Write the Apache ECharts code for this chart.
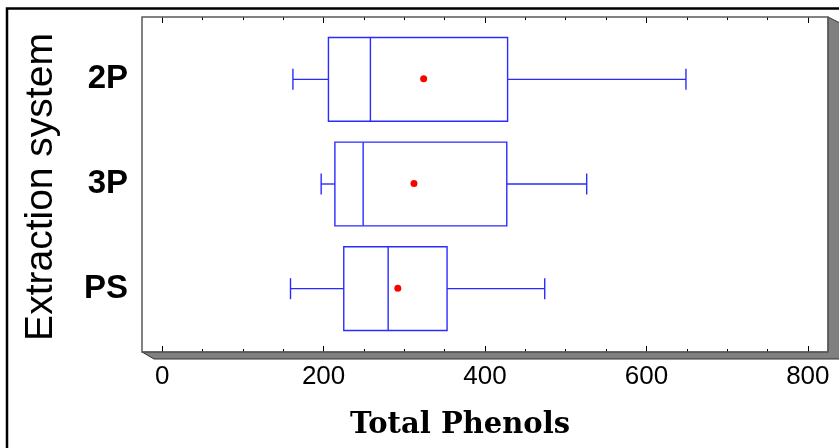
<!DOCTYPE html>
<html>
<head>
<meta charset="utf-8">
<script src="https://cdn.jsdelivr.net/npm/echarts@6/dist/echarts.min.js"></script>
<style>html,body{margin:0;padding:0;background:#fff;}#c{width:839px;height:448px;}</style>
</head>
<body>
<div id="c"></div>
<script>
// ---- data ----
var categories = ['2P', '3P', 'PS'];
var whiskerLow = [162, 197, 159];
var q1Values = [206, 214, 225];
var medianValues = [258, 249, 280];
var q3Values = [428, 427, 353];
var whiskerHigh = [649, 526, 474];
var meanValues = [324, 312, 292];
var majorTicks = [0, 200, 400, 600, 800];
var minorTicks = [50, 100, 150, 250, 300, 350, 450, 500, 550, 650, 700, 750];
var xMin = -25, xMax = 825;
var xTitle = 'Total Phenols';
var yTitle = 'Extraction system';

var seriesData = categories.map(function (c, i) {
  return [i, whiskerLow[i], q1Values[i], medianValues[i], q3Values[i], whiskerHigh[i], meanValues[i]];
});

var BLUE = '#2b2bff';
function renderItem(params, api) {
  var cat = api.value(0);
  var pLow = api.coord([api.value(1), cat]);
  var pQ1 = api.coord([api.value(2), cat]);
  var pMed = api.coord([api.value(3), cat]);
  var pQ3 = api.coord([api.value(4), cat]);
  var pHigh = api.coord([api.value(5), cat]);
  var pMean = api.coord([api.value(6), cat]);
  var band = api.size([0, 1])[1];
  var half = band * 0.4;
  var cap = 10.5;
  var cy = pQ1[1];
  var ls = { stroke: BLUE, lineWidth: 1.4, fill: null };
  return {
    type: 'group',
    children: [
      { type: 'rect', shape: { x: pQ1[0], y: cy - half, width: pQ3[0] - pQ1[0], height: 2 * half }, style: ls },
      { type: 'line', shape: { x1: pMed[0], y1: cy - half, x2: pMed[0], y2: cy + half }, style: ls },
      { type: 'line', shape: { x1: pLow[0], y1: cy, x2: pQ1[0], y2: cy }, style: ls },
      { type: 'line', shape: { x1: pQ3[0], y1: cy, x2: pHigh[0], y2: cy }, style: ls },
      { type: 'line', shape: { x1: pLow[0], y1: cy - cap, x2: pLow[0], y2: cy + cap }, style: ls },
      { type: 'line', shape: { x1: pHigh[0], y1: cy - cap, x2: pHigh[0], y2: cy + cap }, style: ls },
      { type: 'circle', shape: { cx: pMean[0], cy: pMean[1] - 0.5, r: 3.5 }, style: { fill: '#ff0000' } }
    ]
  };
}

var chart = echarts.init(document.getElementById('c'));
var tickStyle = { color: '#000', width: 1 };
chart.setOption({
  backgroundColor: '#fff',
  animation: false,
  grid: [
    { left: 142, top: 17, width: 686, height: 335, show: true, borderColor: '#5a5a5a', borderWidth: 1.5, backgroundColor: 'transparent', z: 3 },
    { left: 142, top: 27, width: 686, height: 314 }
  ],
  xAxis: [
    { gridIndex: 0, type: 'value', position: 'bottom', min: xMin, max: xMax,
      axisLine: { show: false }, splitLine: { show: false },
      axisTick: { show: true, inside: true, length: 6, customValues: majorTicks, lineStyle: tickStyle },
      axisLabel: { show: true, customValues: majorTicks, fontSize: 26, color: '#000', fontFamily: 'Liberation Sans', margin: 12 } },
    { gridIndex: 0, type: 'value', position: 'bottom', min: xMin, max: xMax,
      axisLine: { show: false }, splitLine: { show: false },
      axisTick: { show: true, inside: true, length: 3, customValues: minorTicks, lineStyle: tickStyle },
      axisLabel: { show: false } },
    { gridIndex: 0, type: 'value', position: 'top', min: xMin, max: xMax,
      axisLine: { show: false }, splitLine: { show: false },
      axisTick: { show: true, inside: true, length: 6, customValues: majorTicks, lineStyle: tickStyle },
      axisLabel: { show: false } },
    { gridIndex: 0, type: 'value', position: 'top', min: xMin, max: xMax,
      axisLine: { show: false }, splitLine: { show: false },
      axisTick: { show: true, inside: true, length: 3, customValues: minorTicks, lineStyle: tickStyle },
      axisLabel: { show: false } },
    { gridIndex: 1, type: 'value', min: xMin, max: xMax, show: false }
  ],
  yAxis: [
    { gridIndex: 0, type: 'value', show: false, min: 0, max: 1 },
    { gridIndex: 1, type: 'category', data: categories, inverse: true,
      axisLine: { show: false }, axisTick: { show: false }, splitLine: { show: false },
      axisLabel: { fontSize: 33, fontWeight: 'bold', color: '#000', fontFamily: 'Liberation Sans', margin: 14, padding: [0, 0, 6, 0] } }
  ],
  graphic: [
    { type: 'polygon', z: 1, shape: { points: [[142, 352], [154, 359], [842, 359], [842, 24], [828, 17], [828, 352]] },
      style: { fill: '#808080', stroke: '#333', lineWidth: 1 } },
    { type: 'rect', z: 1, shape: { x: 7, y: 8.5, width: 900, height: 500 }, style: { fill: null, stroke: '#000', lineWidth: 2.5 } },
    { type: 'text', x: 41, y: 187, rotation: Math.PI / 2,
      style: { text: yTitle, fontSize: 39, fontFamily: 'Liberation Sans', fill: '#000', align: 'center', verticalAlign: 'middle' } },
    { type: 'text', x: 460, y: 425,
      style: { text: xTitle, fontSize: 29, fontWeight: 'bold', fontFamily: 'DejaVu Serif', fill: '#000', align: 'center', verticalAlign: 'middle' } }
  ],
  series: [{
    type: 'custom',
    xAxisIndex: 4,
    yAxisIndex: 1,
    renderItem: renderItem,
    encode: { x: [1, 2, 3, 4, 5, 6], y: 0 },
    data: seriesData,
    z: 5
  }]
});
</script>
</body>
</html>
